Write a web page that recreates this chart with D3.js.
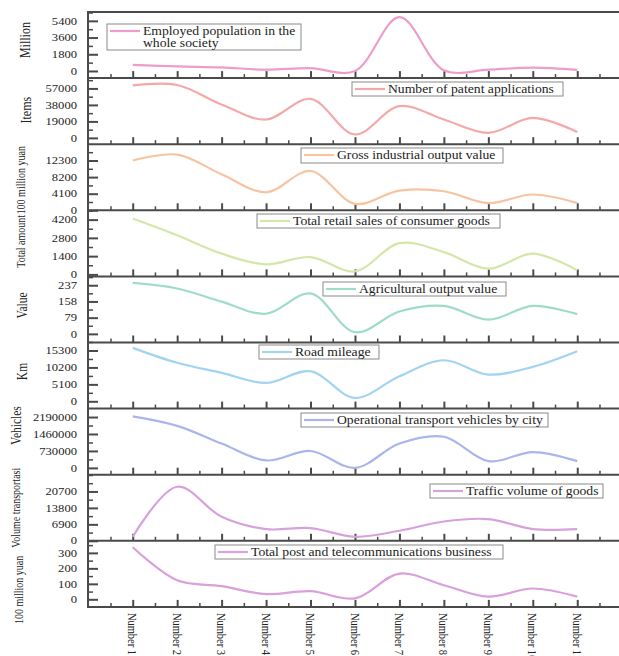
<!DOCTYPE html>
<html><head><meta charset="utf-8">
<script src="https://cdn.jsdelivr.net/npm/d3@7"></script>
<style>
body{margin:0;background:#fff;}
text{font-family:"Liberation Serif","Times New Roman",serif;fill:#222;}
</style></head>
<body><svg id="c" width="619" height="656"></svg>
<script>
const categories = ["Number 1","Number 2","Number 3","Number 4","Number 5","Number 6","Number 7","Number 8","Number 9","Number 10","Number 11"];

const seriesNames = [
  ["Employed population in the","whole society"],
  ["Number of patent applications"],
  ["Gross industrial output value"],
  ["Total retail sales of consumer goods"],
  ["Agricultural output value"],
  ["Road mileage"],
  ["Operational transport vehicles by city"],
  ["Traffic volume of goods"],
  ["Total post and telecommunications business"]
];
const yTitles = ["Million","Items","100 million yuan","Total amount","Value","Km","Vehicles","Volume transportasi","100 million yuan"];

const employed   = [650, 490, 380, 140, 300, 0, 5800, 70, 140, 365, 110];
const patents    = [60500, 61000, 38500, 21200, 45000, 3900, 36600, 21200, 5800, 23000, 6900];
const industrial = [12300, 13760, 8900, 4450, 9700, 1600, 4850, 4700, 1780, 3900, 1780];
const retail     = [4280, 3000, 1590, 770, 1330, 230, 2400, 1710, 440, 1590, 310];
const agri       = [248, 221, 157, 98, 197, 8, 109, 136, 69, 136, 96];
const road       = [16100, 11600, 8570, 5550, 9050, 1030, 7540, 12370, 8060, 10380, 15090];
const vehicles   = [2216000, 1808000, 1050000, 320000, 727000, 0, 1050000, 1340000, 290000, 683000, 290000];
const goods      = [1680, 22670, 10080, 4910, 5330, 1680, 4200, 8100, 9100, 4910, 4910];
const post       = [336, 123, 85, 34, 53, 6, 166, 91, 17, 70, 17];
const allSeries = [employed, patents, industrial, retail, agri, road, vehicles, goods, post];

const tickLabels = [
  [0, 1800, 3600, 5400],
  [0, 19000, 38000, 57000],
  [0, 4100, 8200, 12300],
  [0, 1400, 2800, 4200],
  [0, 79, 158, 237],
  [0, 5100, 10200, 15300],
  [0, 730000, 1460000, 2190000],
  [0, 6900, 13800, 20700],
  [0, 100, 200, 300]
];
const yMin = [-767, -7270, 0, -154, -42, -2200, -293000, 0, -49];
const yMax = [6353, 68900, 16326, 4915, 280, 17714, 2553000, 27726, 378];

const colors = ["#ee9dcb","#f4a8a8","#f6c4a0","#d4e7a8","#9fdcc5","#a2d4f2","#aab5ec","#d7a2dc","#daa0dc"];
// legend layout [left, top, width, height]
const legendBoxes = [
  [107, 24, 194, 26],
  [352, 82, 211, 14],
  [301, 148, 202, 15],
  [257, 214, 243, 14],
  [323, 282, 183, 14],
  [259, 345, 120, 14],
  [301, 413, 247, 14],
  [430, 484, 173, 14],
  [215, 545, 288, 14]
];
// y-title layout: [centre x, offset from panel centre, font size]
const titlePos = [[25, -5, 12], [26, -1, 12], [21, 3, 10], [21, -2, 10], [22, -4, 11.5], [22, -4, 11.5], [16, -16, 11.5], [16, 0, 10], [19, 16, 10]];

const svg = d3.select("#c");
const left = 88, top0 = 12, ph = 66.1;
const x = d3.scaleLinear().domain([0, 12]).range([88.25, 621.7]);
const frameColor = "#4a4a4a";
const SX = 1.2; // horizontal stretch of the reference image's text

allSeries.forEach((vals, i) => {
  const t = top0 + i * ph, b = t + ph;
  const y = d3.scaleLinear().domain([yMin[i], yMax[i]]).range([b, t]);
  const g = svg.append("g");
  const ticks = tickLabels[i];
  const step = ticks[1] - ticks[0];
  const minors = [];
  for (let v = ticks[0] - step / 2; v <= yMax[i]; v += step / 2) {
    if (v >= yMin[i] && v <= yMax[i] && !ticks.includes(v)) minors.push(v);
  }
  g.append("g").attr("transform", `translate(${left},0)`)
    .call(d3.axisRight(y).tickValues(ticks).tickSize(10).tickFormat(""))
    .call(s => s.select(".domain").remove())
    .call(s => s.selectAll("line").attr("stroke", frameColor).attr("stroke-width", 2));
  g.append("g").attr("transform", `translate(${left},0)`)
    .call(d3.axisRight(y).tickValues(minors).tickSize(5).tickFormat(""))
    .call(s => s.select(".domain").remove())
    .call(s => s.selectAll("line").attr("stroke", frameColor).attr("stroke-width", 1.5));
  g.selectAll("text.tl").data(ticks).enter().append("text")
    .attr("transform", d => `translate(77,${y(d)}) scale(${SX},1)`)
    .attr("dy", "0.35em").attr("text-anchor", "end").attr("font-size", 10.5).text(d => d);
  const xMaj = d3.range(1, 12), xMin = d3.range(0.5, 12, 1);
  g.append("g").attr("transform", `translate(0,${b})`)
    .call(d3.axisTop(x).tickValues(xMaj).tickSize(7).tickFormat(""))
    .call(s => s.select(".domain").remove())
    .call(s => s.selectAll("line").attr("stroke", frameColor).attr("stroke-width", 2));
  g.append("g").attr("transform", `translate(0,${b})`)
    .call(d3.axisTop(x).tickValues(xMin).tickSize(4).tickFormat(""))
    .call(s => s.select(".domain").remove())
    .call(s => s.selectAll("line").attr("stroke", frameColor).attr("stroke-width", 1.5));
  g.append("line").attr("x1", left).attr("x2", 619).attr("y1", b).attr("y2", b)
    .attr("stroke", frameColor).attr("stroke-width", 2);
  const line = d3.line().x((d, j) => x(j + 1)).y(d => y(d)).curve(d3.curveCatmullRom.alpha(0.5));
  g.append("path").datum(vals).attr("d", line).attr("fill", "none")
    .attr("stroke", colors[i]).attr("stroke-width", 2.2);
  const [lx, ly, lw, lh] = legendBoxes[i];
  g.append("rect").attr("x", lx).attr("y", ly).attr("width", lw).attr("height", lh)
    .attr("fill", "#fff").attr("stroke", "#8a8a8a").attr("stroke-width", 1);
  g.append("line").attr("x1", lx + 3).attr("x2", lx + 33).attr("y1", ly + 7).attr("y2", ly + 7)
    .attr("stroke", colors[i]).attr("stroke-width", 2.2);
  seriesNames[i].forEach((s, k) => {
    g.append("text").attr("transform", `translate(${lx + 36},${ly + 7 + k * 12}) scale(1.14,1)`)
      .attr("dy", "0.35em").attr("font-size", 12).text(s);
  });
  const [cx, off, fs] = titlePos[i];
  const cy = (t + b) / 2 + off;
  g.append("text").attr("transform", `translate(${cx},${cy}) rotate(-90) scale(1,${SX})`)
    .attr("dy", "0.35em").attr("text-anchor", "middle").attr("font-size", fs).text(yTitles[i]);
});

const bottom = top0 + 9 * ph;
svg.append("line").attr("x1", left).attr("x2", 619).attr("y1", top0).attr("y2", top0)
  .attr("stroke", frameColor).attr("stroke-width", 2);
svg.append("line").attr("x1", left).attr("x2", left).attr("y1", top0 - 1).attr("y2", bottom + 1)
  .attr("stroke", frameColor).attr("stroke-width", 2);

svg.selectAll("text.cat").data(categories).enter().append("text")
  .attr("transform", (d, j) => `translate(${x(j + 1)},${bottom + 6}) rotate(90) scale(1,${SX})`)
  .attr("dy", "0.35em").attr("font-size", 10.5).text(d => d);
</script></body></html>
